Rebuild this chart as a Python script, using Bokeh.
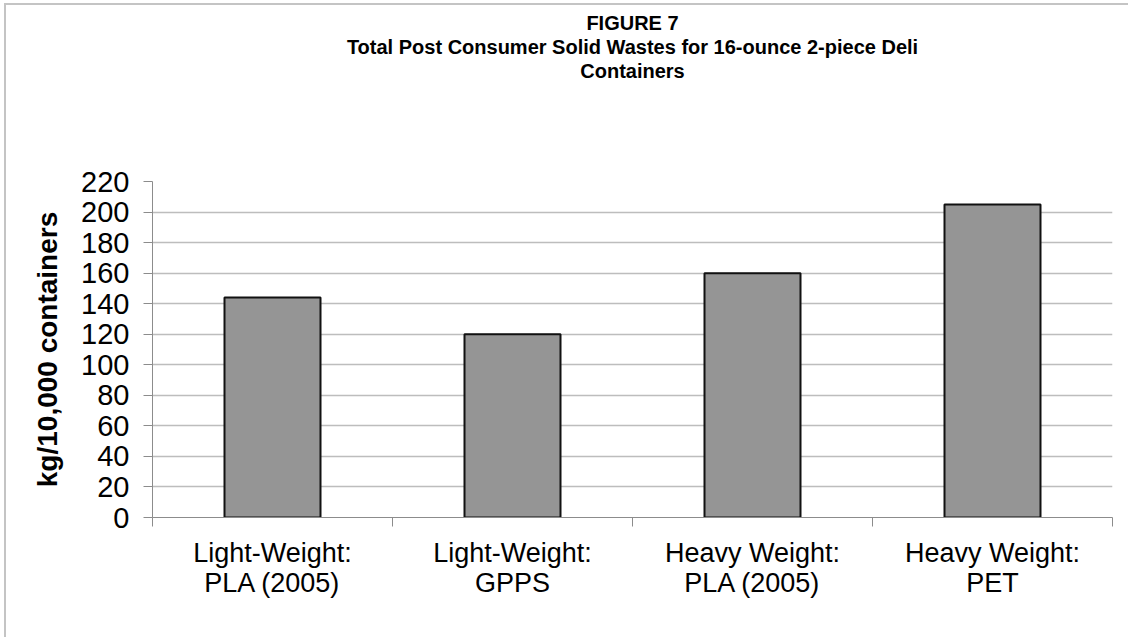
from bokeh.plotting import figure
from bokeh.models import Range1d, FixedTicker, Title
from bokeh.embed import file_html
from bokeh.resources import INLINE

# ---- data ----
categories = ["Light-Weight:\nPLA (2005)", "Light-Weight:\nGPPS",
              "Heavy Weight:\nPLA (2005)", "Heavy Weight:\nPET"]
values = [144, 120, 160, 205]
y_ticks = [0, 20, 40, 60, 80, 100, 120, 140, 160, 180, 200, 220]
title_lines = ["FIGURE 7",
               "Total Post Consumer Solid Wastes for 16-ounce 2-piece Deli",
               "Containers"]
y_label = "kg/10,000 containers"

FONT = "Liberation Sans"

n = len(categories)
centers = [i + 0.5 for i in range(n)]
bounds = [float(i) for i in range(n + 1)]

p = figure(width=1124, height=634, output_backend="svg", toolbar_location=None,
           x_range=Range1d(0, n), y_range=Range1d(0, max(y_ticks)),
           min_border_left=146, min_border_right=18,
           min_border_top=176, min_border_bottom=122, title=None)
p.outline_line_color = None
p.background_fill_color = "white"
p.border_fill_color = "white"

p.vbar(x=centers, top=values, width=0.4, fill_color="#959595",
       line_color="#111111", line_width=2)

# grid
p.xgrid.visible = False
p.ygrid.ticker = FixedTicker(ticks=y_ticks)
p.ygrid.grid_line_color = "#bdbdbd"
p.ygrid.grid_line_width = 1.5

# x axis
xa = p.xaxis[0]
xa.ticker = FixedTicker(ticks=centers, minor_ticks=bounds)
xa.major_label_overrides = {float(c): lab for c, lab in zip(centers, categories)}
xa.major_tick_out = 0
xa.major_tick_in = 0
xa.minor_tick_out = 9
xa.minor_tick_in = 0
xa.minor_tick_line_color = "#8c8c8c"
xa.axis_line_color = "#8c8c8c"
xa.major_label_text_font = FONT
xa.major_label_text_font_size = "27px"
xa.major_label_text_color = "black"
xa.major_label_text_line_height = 1.0
xa.major_label_standoff = 11

# y axis
ya = p.yaxis[0]
ya.ticker = FixedTicker(ticks=y_ticks)
ya.major_tick_out = 9
ya.major_tick_in = 0
ya.minor_tick_out = 0
ya.minor_tick_in = 0
ya.major_tick_line_color = "#8c8c8c"
ya.axis_line_color = "#8c8c8c"
ya.major_label_text_font = FONT
ya.major_label_text_font_size = "29px"
ya.major_label_text_color = "black"
ya.major_label_standoff = 14
ya.axis_label = y_label
ya.axis_label_text_font = FONT
ya.axis_label_text_font_size = "28px"
ya.axis_label_text_font_style = "bold"
ya.axis_label_text_color = "black"
ya.axis_label_standoff = 15

# spacer between title block and plot frame (nearest the frame)
p.add_layout(Title(text=" ", text_font_size="1px", standoff=97, offset=0), "above")
# title lines, added nearest-first
for txt in reversed(title_lines):
    p.add_layout(Title(text=txt, align="center", text_font=FONT,
                       text_font_size="20px", text_font_style="bold",
                       text_color="black", standoff=0, offset=0), "above")

p.styles = {"box-shadow": "-2px -2px 0px 0px #c4c4c4",
            "margin-left": "6px", "margin-top": "5px"}

open("out.html", "w").write(file_html(p, INLINE))
